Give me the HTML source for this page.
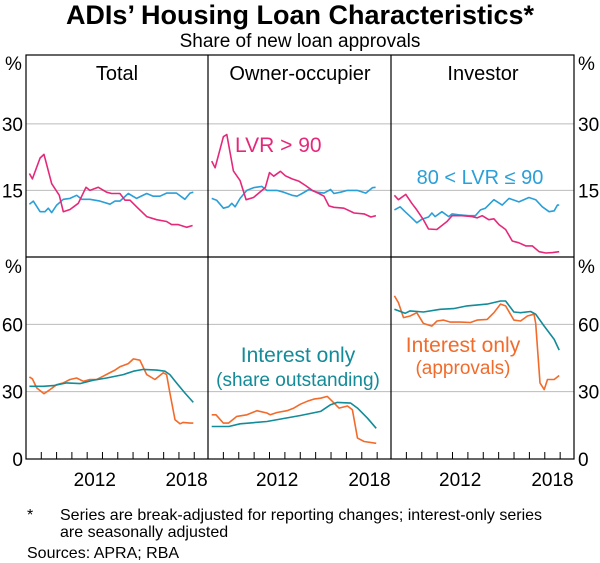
<!DOCTYPE html>
<html><head><meta charset="utf-8">
<style>
body{margin:0;background:#fff;}
svg{display:block;font-family:"Liberation Sans",Arial,sans-serif;}
</style></head>
<body>
<svg id="chart" width="600" height="563" viewBox="0 0 600 563" xmlns="http://www.w3.org/2000/svg">
<text x="300" y="24" text-anchor="middle" font-size="27" font-weight="bold">ADIs’ Housing Loan Characteristics*</text>
<text x="300" y="47" text-anchor="middle" font-size="19">Share of new loan approvals</text>
<g id="grid"></g><g id="series"></g><g id="frame"></g>
<text x="117" y="80" text-anchor="middle" font-size="20">Total</text>
<text x="300" y="80" text-anchor="middle" font-size="20">Owner-occupier</text>
<text x="483" y="80" text-anchor="middle" font-size="20">Investor</text>
<text x="235" y="152" font-size="21" fill="#e5287a">LVR &gt; 90</text>
<text x="480" y="184" text-anchor="middle" font-size="20" fill="#2a9fd8">80 &lt; LVR ≤ 90</text>
<text x="298" y="362" text-anchor="middle" font-size="21" fill="#138b98">Interest only</text>
<text x="298" y="386" text-anchor="middle" font-size="19" fill="#138b98">(share outstanding)</text>
<text x="463" y="352" text-anchor="middle" font-size="21" fill="#f26b2b">Interest only</text>
<text x="463" y="374" text-anchor="middle" font-size="19" fill="#f26b2b">(approvals)</text>
<text x="27" y="520" font-size="16">*</text>
<text x="60" y="520" font-size="16">Series are break-adjusted for reporting changes; interest-only series</text>
<text x="60" y="537" font-size="16">are seasonally adjusted</text>
<text x="27" y="558" font-size="16">Sources: APRA; RBA</text>
</svg>
<script>
const NS="http://www.w3.org/2000/svg";
const panelX=[26,208,391,574];
const topY=55, midY=257, botY=459;
const topMax=45.5, botMax=90;
const yearStart=2008, yearEnd=2019.9;
const topTicks=[15,30];
const botTicks=[30,60];
const yearTicks=[2009,2010,2011,2012,2013,2014,2015,2016,2017,2018,2019];
const yearLabels=[2012,2018];

// Total top
const totLvr90Yrs=[2008.22,2008.42,2008.92,2009.18,2009.68,2010.18,2010.44,2010.88,2011.42,2011.92,2012.18,2012.73,2013.27,2013.6,2014.14,2014.47,2014.8,2015.23,2015.89,2016.54,2017.19,2017.52,2017.96,2018.5,2018.89];
const totLvr90=[18.8,17.6,22.3,23.1,16.5,13.9,10.2,10.7,12.1,15.7,15.0,15.7,14.6,14.3,14.3,12.8,12.8,11.3,9.1,8.4,8.0,7.3,7.3,6.7,7.1];
const totLvr80Yrs=[2008.22,2008.48,2008.92,2009.24,2009.46,2009.68,2010.01,2010.44,2010.88,2011.31,2011.64,2012.18,2012.84,2013.49,2013.82,2014.14,2014.69,2015.23,2015.89,2016.32,2016.76,2017.19,2017.84,2018.39,2018.72,2018.94];
const totLvr80=[11.9,12.6,10.2,10.2,11.0,10.0,11.7,13.0,13.2,13.9,13.0,13.0,12.6,11.9,12.6,12.6,14.3,13.2,14.3,13.7,13.7,14.4,14.4,13.0,14.4,14.6];
// Owner-occupier top
const ooLvr90Yrs=[2008.24,2008.46,2009.0,2009.22,2009.65,2010.09,2010.48,2010.96,2011.51,2011.73,2012.0,2012.27,2012.71,2013.03,2013.47,2013.9,2014.34,2014.78,2015.21,2015.54,2015.86,2016.19,2016.84,2017.5,2018.15,2018.59,2018.92];
const ooLvr90=[21.6,20.1,27.1,27.6,19.4,17.2,12.9,13.4,15.0,15.7,19.0,18.2,19.3,18.3,17.6,17.1,16.1,15.0,14.3,13.7,11.5,11.2,11.0,9.9,9.7,9.0,9.3];
const ooLvr80Yrs=[2008.24,2008.56,2009.0,2009.33,2009.55,2009.76,2010.09,2010.52,2010.96,2011.5,2011.83,2012.48,2012.92,2013.47,2013.79,2014.12,2014.56,2015.1,2015.54,2015.97,2016.19,2016.62,2017.06,2017.71,2018.26,2018.69,2018.9];
const ooLvr80=[13.2,12.8,11.0,11.3,12.1,11.3,13.2,15.0,15.6,15.9,15.0,15.0,14.6,13.9,13.7,14.3,15.2,14.6,14.4,15.2,14.3,14.6,15.0,15.0,14.4,15.6,15.7];
// Investor top
const invLvr90Yrs=[2008.22,2008.48,2008.96,2009.35,2009.68,2010.11,2010.44,2010.98,2011.31,2011.64,2011.97,2012.62,2013.27,2013.6,2013.93,2014.36,2014.69,2015.02,2015.45,2015.89,2016.32,2016.76,2017.19,2017.63,2018.07,2018.5,2018.94];
const invLvr90=[13.9,12.9,14.1,12.1,10.6,8.4,6.3,6.2,7.1,8.0,9.3,9.3,9.1,8.8,9.3,8.4,8.6,7.3,6.2,3.6,3.2,2.5,2.5,1.2,0.9,1.0,1.2];
const invLvr80Yrs=[2008.22,2008.59,2008.92,2009.35,2009.68,2010.0,2010.44,2010.66,2010.87,2011.31,2011.75,2011.97,2012.4,2013.05,2013.49,2013.82,2014.14,2014.69,2015.23,2015.67,2016.32,2016.97,2017.41,2017.84,2018.28,2018.61,2018.82,2018.94];
const invLvr80=[10.6,11.3,10.2,8.8,7.7,8.5,9.0,9.9,9.1,10.2,9.1,9.7,9.5,9.3,9.3,10.6,11.0,12.9,11.7,13.2,12.4,13.4,12.9,11.3,10.2,10.4,11.7,11.7];
// Total bottom
const totIoAppYrs=[2008.22,2008.42,2008.7,2009.18,2009.57,2010.0,2010.44,2010.88,2011.31,2011.75,2012.18,2012.62,2013.05,2013.38,2013.82,2014.14,2014.69,2015.02,2015.45,2015.89,2016.43,2016.98,2017.19,2017.41,2017.74,2018.07,2018.28,2018.72,2018.94];
const totIoApp=[36.6,35.7,31.7,29.1,30.9,33.1,33.9,35.4,36.1,34.6,35.4,35.4,36.9,38.1,39.6,41.1,42.5,44.6,44.0,37.6,35.4,38.4,37.6,29.4,17.5,15.7,16.3,16.0,16.0];
const totIoOutYrs=[2008.22,2009.13,2009.79,2010.66,2011.53,2012.4,2013.27,2014.36,2015.02,2015.67,2016.54,2017.08,2017.41,2017.84,2018.39,2018.94];
const totIoOut=[32.4,32.4,32.7,33.9,33.6,35.1,36.1,37.6,39.1,39.9,39.6,39.1,37.6,33.9,29.4,25.2];
// Owner-occupier bottom
const ooIoAppYrs=[2008.24,2008.52,2009.0,2009.33,2009.87,2010.53,2011.18,2011.83,2012.05,2012.49,2013.14,2013.58,2014.01,2014.45,2014.88,2015.32,2015.76,2016.08,2016.52,2017.07,2017.39,2017.72,2018.15,2018.94];
const ooIoApp=[19.7,19.7,16.0,16.0,19.0,19.7,21.5,20.5,19.7,20.7,21.5,22.7,24.4,25.7,26.7,27.1,27.9,25.7,22.7,23.6,21.9,9.3,7.8,7.0];
const ooIoOutYrs=[2008.24,2009.35,2010.09,2011.83,2014.01,2015.32,2015.97,2016.41,2017.28,2017.72,2018.37,2018.94];
const ooIoOut=[14.5,14.5,15.7,16.7,19.4,21.2,24.2,25.2,24.9,22.7,18.2,13.7];
// Investor bottom
const invIoAppYrs=[2008.22,2008.48,2008.81,2009.24,2009.68,2010.11,2010.66,2010.99,2011.42,2011.86,2012.51,2013.16,2013.6,2014.25,2014.69,2015.12,2015.45,2015.99,2016.43,2016.87,2017.3,2017.41,2017.69,2017.96,2018.18,2018.61,2018.94];
const invIoApp=[72.7,69.7,63.0,63.7,65.2,60.4,59.2,61.5,61.9,61.0,61.0,60.8,61.9,62.2,65.2,69.0,68.2,61.9,61.5,63.7,64.5,60.4,33.9,30.9,35.4,35.4,37.2];
const invIoOutYrs=[2008.22,2008.92,2009.24,2010.11,2011.2,2012.07,2012.94,2014.25,2015.12,2015.45,2015.99,2016.43,2017.08,2017.41,2017.96,2018.61,2018.94];
const invIoOut=[66.7,64.9,66.0,65.5,66.7,67.0,68.2,69.0,70.4,70.4,65.5,65.2,65.7,64.5,59.2,53.3,48.5];

const PINK="#e5287a",BLUE="#2a9fd8",TEAL="#138b98",ORANGE="#f26b2b";
const FS=19;
function xScale(p,yr){return panelX[p]+(yr-yearStart)/(yearEnd-yearStart)*(panelX[p+1]-panelX[p]);}
function yTop(v){return midY-v/topMax*(midY-topY);}
function yBot(v){return botY-v/botMax*(botY-midY);}
function mk(tag,attrs,parent){const e=document.createElementNS(NS,tag);for(const k in attrs)e.setAttribute(k,attrs[k]);parent.appendChild(e);return e;}
const grid=document.getElementById('grid'),ser=document.getElementById('series'),frm=document.getElementById('frame'),svg=document.getElementById('chart');

topTicks.forEach(v=>{
  const l=mk('line',{x1:26,x2:574,y1:yTop(v),y2:yTop(v),stroke:'#bbb','stroke-width':1},grid);
  
  
  const a=mk('text',{x:23,y:yTop(v)+7,'text-anchor':'end','font-size':FS},svg);a.textContent=v;
  
  
  const b=mk('text',{x:578,y:yTop(v)+7,'font-size':FS},svg);b.textContent=v;
  
  
});
botTicks.forEach(v=>{
  const l=mk('line',{x1:26,x2:574,y1:yBot(v),y2:yBot(v),stroke:'#bbb','stroke-width':1},grid);
  
  
});
[0].concat(botTicks).forEach(v=>{
  const a=mk('text',{x:23,y:yBot(v)+7,'text-anchor':'end','font-size':FS},svg);a.textContent=v;
  
  
  const b=mk('text',{x:578,y:yBot(v)+7,'font-size':FS},svg);b.textContent=v;
  
  
});
[[5,70],[5,273]].forEach(([x,y])=>{
  const a=mk('text',{x:x,y:y,'font-size':FS},svg);a.textContent='%';
  
  
  const b=mk('text',{x:578,y:y,'font-size':FS},svg);b.textContent='%';
  
  
});
for(let p=0;p<3;p++){
  yearTicks.forEach(yr=>{
    const x=xScale(p,yr);
    const t=mk('line',{x1:x,x2:x,y1:botY,y2:botY-7,stroke:'#000','stroke-width':1},frm);
    
    
  });
  yearLabels.forEach(yr=>{
    const t=mk('text',{x:xScale(p,yr+0.5),y:486,'text-anchor':'middle','font-size':FS},svg);t.textContent=yr;
    
    
  });
}
function line(p,yrs,vals,ys,color,name){
  const d=yrs.map((yr,i)=>(i?'L':'M')+xScale(p,yr).toFixed(1)+','+ys(vals[i]).toFixed(1)).join('');
  const e=mk('path',{d:d,fill:'none',stroke:color,'stroke-width':1.6,'stroke-linejoin':'round'},ser);
  
  
}
line(0,totLvr80Yrs,totLvr80,yTop,BLUE,'line-total-lvr-80-90');
line(0,totLvr90Yrs,totLvr90,yTop,PINK,'line-total-lvr-90');
line(1,ooLvr80Yrs,ooLvr80,yTop,BLUE,'line-owner-lvr-80-90');
line(1,ooLvr90Yrs,ooLvr90,yTop,PINK,'line-owner-lvr-90');
line(2,invLvr80Yrs,invLvr80,yTop,BLUE,'line-investor-lvr-80-90');
line(2,invLvr90Yrs,invLvr90,yTop,PINK,'line-investor-lvr-90');
line(0,totIoAppYrs,totIoApp,yBot,ORANGE,'line-total-io-approvals');
line(0,totIoOutYrs,totIoOut,yBot,TEAL,'line-total-io-outstanding');
line(1,ooIoAppYrs,ooIoApp,yBot,ORANGE,'line-owner-io-approvals');
line(1,ooIoOutYrs,ooIoOut,yBot,TEAL,'line-owner-io-outstanding');
line(2,invIoAppYrs,invIoApp,yBot,ORANGE,'line-investor-io-approvals');
line(2,invIoOutYrs,invIoOut,yBot,TEAL,'line-investor-io-outstanding');

const r=mk('rect',{x:26,y:topY,width:548,height:botY-topY,fill:'none',stroke:'#000','stroke-width':1.2},frm);


const h=mk('line',{x1:26,x2:574,y1:midY,y2:midY,stroke:'#000','stroke-width':1.2},frm);


[208,391].forEach(x=>{
  const v=mk('line',{x1:x,x2:x,y1:topY,y2:botY,stroke:'#000','stroke-width':1.2},frm);
  
  
});
</script>
</body></html>
